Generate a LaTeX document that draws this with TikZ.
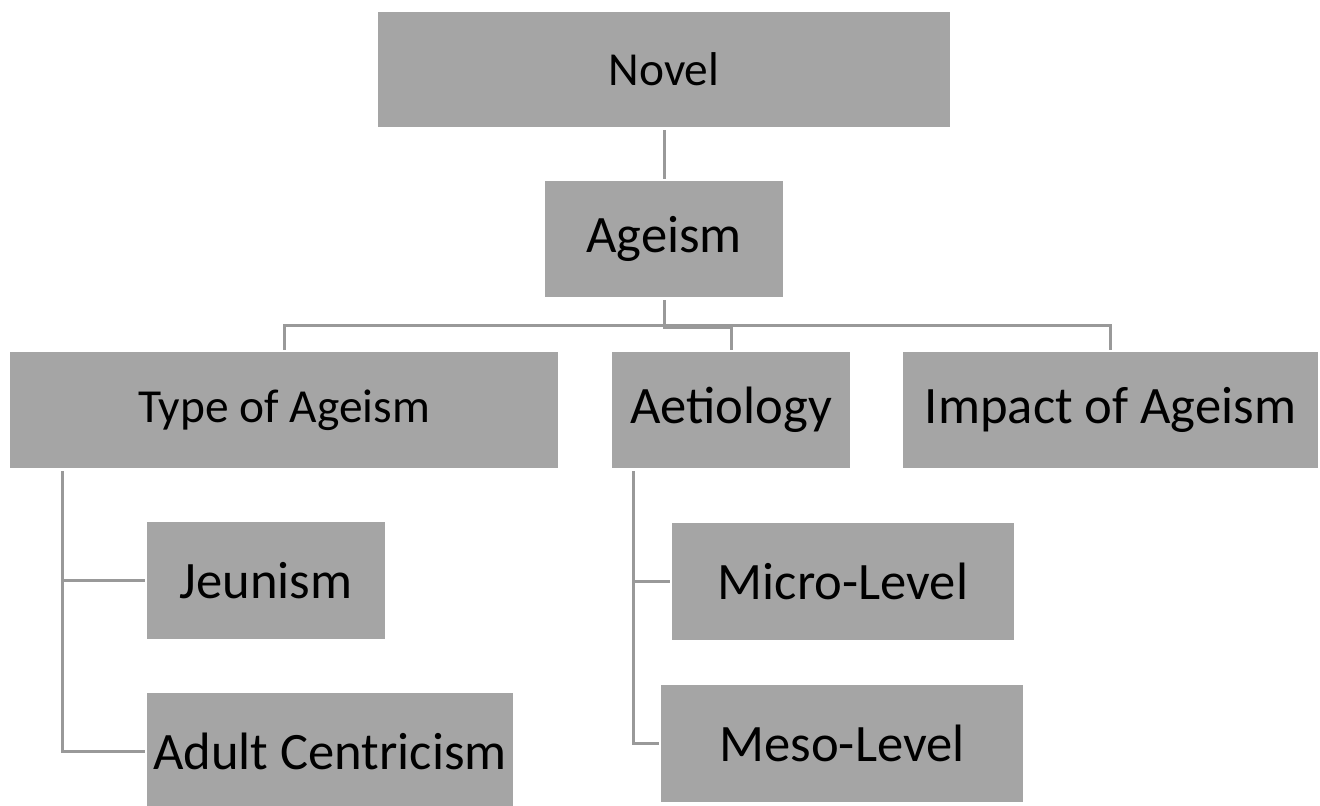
\documentclass[tikz,border=0pt]{standalone}
\usepackage{fontspec}
\setmainfont{Carlito}
\usepackage{tikz}
\usetikzlibrary{calc}
\definecolor{boxgray}{HTML}{A5A5A5}
\definecolor{linegray}{HTML}{999999}

\begin{document}
\begin{tikzpicture}[x=0.5pt, y=-0.5pt, every node/.style={rectangle, fill=boxgray, text=black, inner sep=0pt, font=\fontsize{26.3}{30}\selectfont},
            small/.style={font=\fontsize{23.7}{28}\selectfont},
            link/.style={draw=linegray, line width=1.5pt, shorten <=1.5pt, shorten >=1pt}]
            \useasboundingbox (0,0) rectangle (1320,806);
            \node [small, minimum width=286pt, minimum height=57.5pt] (Novel)  at (664,69.5)  {Novel};
            \node [minimum width=119pt, minimum height=58pt]          (Ageism) at (664,239)   {Ageism};
            \node [small, minimum width=274pt, minimum height=58pt]   (Type)   at (284,410)   {Type of Ageism};
            \node [minimum width=119pt, minimum height=58pt]          (Aetio)  at (731,410)   {Aetiology};
            \node [minimum width=207.5pt, minimum height=58pt]        (Impact) at (1110.5,410) {Impact of Ageism};
            \node [minimum width=119pt, minimum height=58.5pt]        (Jeunism) at (266,580.5) {Jeunism};
            \node [minimum width=183pt, minimum height=58pt]          (Adult)  at (330,751)   {Adult Centricism};
            \node [minimum width=171pt, minimum height=58.5pt]        (Micro)  at (843,581.5) {Micro-Level};
            \node [minimum width=181pt, minimum height=58.5pt]        (Meso)   at (842,743.5) {Meso-Level};
            \draw [link] (Novel) -- (Ageism);
            \draw [link] (Ageism.south) -- ++(0,28) -| (Type.north);
            \draw [link] (Ageism.south) -- ++(0,30) -| (Aetio.north);
            \draw [link] (Ageism.south) -- ++(0,28) -| (Impact.north);
            \foreach \n in {Jeunism, Adult} {
                        \draw [link] ($(Type.south west)+(53,0)$) |- (\n.west);
                    }
            \foreach \n in {Micro, Meso} {
                        \draw [link] ($(Aetio.south west)+(22,0)$) |- (\n.west);
                    }
        \end{tikzpicture}
\end{document}
